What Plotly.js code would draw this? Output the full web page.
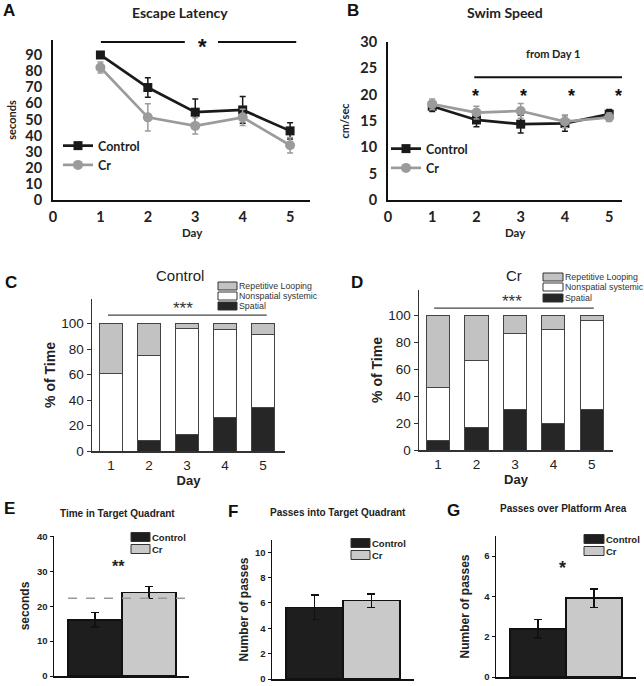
<!DOCTYPE html>
<html><head><meta charset="utf-8">
<script src="https://cdn.plot.ly/plotly-3.0.1.min.js"></script>
<style>html,body{margin:0;padding:0;background:#fff}#chart{width:644px;height:686px}</style>
</head><body><div id="chart"></div>
<script>
// ---------- data ----------
const days = [1, 2, 3, 4, 5];
const groups = ['Control', 'Cr'];

// A: Escape latency (seconds)
const latencyControl = [90, 69.8, 54.5, 55.9, 42.9];
const latencyControlErr = [1, 6, 8.2, 8.3, 5];
const latencyCr = [82.2, 51.3, 46, 51.3, 34];
const latencyCrErr = [3.4, 8.5, 5, 5, 4.8];

// B: Swim speed (cm/sec)
const speedControl = [17.8, 15.2, 14.4, 14.55, 16.3];
const speedControlErr = [1, 1.3, 1.7, 1.5, 0.9];
const speedCr = [18.2, 16.6, 16.9, 14.9, 15.7];
const speedCrErr = [1, 1.2, 1.4, 1.2, 0.8];

// C / D: search strategy (% of time)
const strategyNames = ['Spatial', 'Nonspatial systemic', 'Repetitive Looping'];
const ctrlSpatial = [0, 8.6, 13, 26.7, 33.8];
const ctrlNonspatial = [60.7, 66.5, 83.3, 69.1, 58.1];
const ctrlLooping = [39.3, 24.9, 3.7, 4.2, 8.1];
const crSpatial = [6.7, 16.8, 30.2, 19.8, 30.2];
const crNonspatial = [39.8, 49.8, 56.4, 69.8, 65.8];
const crLooping = [53.5, 33.4, 13.4, 10.4, 4];

// E: time in target quadrant (seconds)
const targetTime = [16.1, 24.0];
const targetTimeErr = [2.1, 1.7];
const chanceLevel = 22.3;
// F: passes into target quadrant
const quadrantPasses = [5.66, 6.18];
const quadrantPassesErr = [0.97, 0.52];
// G: passes over platform area
const platformPasses = [2.39, 3.91];
const platformPassesErr = [0.46, 0.46];

// ---------- styles ----------
const W = 644, H = 686;
const fx = p => p / W;
const fy = p => 1 - p / H;
const CTRL = '#1a1a1a', CR = '#9b9b9b';
const stratColors = ['#262626', '#ffffff', '#c2c2c2'];
const barColors = ['#1e1e1e', '#c9c9c9'];
const XL = 'Lato, "Open Sans", sans-serif';
const AR = '"Liberation Sans", Arial, sans-serif';

const traces = [];
function lineTrace(y, err, name, color, sym, size, ax, leg) {
  return {x: days, y: y, type: 'scatter', mode: 'lines+markers', name: name,
    xaxis: 'x' + ax, yaxis: 'y' + ax, legend: leg,
    line: {color: color, width: 2.7},
    marker: {symbol: sym, size: size, color: color},
    error_y: {type: 'data', array: err, color: color, thickness: 1.5, width: 3}};
}
traces.push(lineTrace(latencyControl, latencyControlErr, 'Control', CTRL, 'square', 9, '', 'legend'));
traces.push(lineTrace(latencyCr, latencyCrErr, 'Cr', CR, 'circle', 10, '', 'legend'));
traces.push(lineTrace(speedControl, speedControlErr, 'Control', CTRL, 'square', 9, '2', 'legend2'));
traces.push(lineTrace(speedCr, speedCrErr, 'Cr', CR, 'circle', 10, '2', 'legend2'));

function stackTraces(series, ax) {
  series.forEach((s, i) => traces.push({x: days, y: s, type: 'bar', name: strategyNames[i],
    xaxis: 'x' + ax, yaxis: 'y' + ax, width: 0.6, showlegend: false,
    marker: {color: stratColors[i], line: {color: '#444', width: 1}}}));
}
stackTraces([ctrlSpatial, ctrlNonspatial, ctrlLooping], '3');
stackTraces([crSpatial, crNonspatial, crLooping], '4');

function groupBars(vals, errs, ax) {
  vals.forEach((v, i) => traces.push({x: [groups[i]], y: [v], type: 'bar', name: groups[i],
    xaxis: 'x' + ax, yaxis: 'y' + ax, width: 1, showlegend: false,
    marker: {color: barColors[i], line: {color: '#111', width: 1.5}},
    error_y: {type: 'data', array: [errs[i]], color: '#111', thickness: 1.5, width: 4}}));
}
groupBars(targetTime, targetTimeErr, '5');
groupBars(quadrantPasses, quadrantPassesErr, '6');
groupBars(platformPasses, platformPassesErr, '7');

// ---------- axes ----------
const xlTick = {family: XL, size: 14.5, weight: 'bold', color: '#222'};
const arTick = {family: AR, size: 13.5, color: '#222'};
const smTick = {family: AR, size: 9.5, weight: 'bold', color: '#222'};
function ax(domain, range, extra) {
  return Object.assign({domain: domain, range: range, showgrid: false, zeroline: false,
    showline: true, fixedrange: true}, extra);
}
const layout = {
  width: W, height: H, margin: {l: 0, r: 0, t: 0, b: 0},
  paper_bgcolor: '#fff', plot_bgcolor: 'rgba(0,0,0,0)', barmode: 'stack',
  showlegend: true,
  xaxis: ax([fx(53), fx(310)], [0, 5.42], {anchor: 'y', tickvals: [0,1,2,3,4,5], ticks: '', linecolor: '#111', linewidth: 2, tickfont: xlTick, ticklabelstandoff: 3}),
  yaxis: ax([fy(200), fy(40)], [0, 99.3], {anchor: 'x', tickvals: [0,10,20,30,40,50,60,70,80,90], ticks: '', linecolor: '#111', linewidth: 2, tickfont: xlTick, ticklabelstandoff: 6,
    title: {text: 'seconds', font: {family: XL, size: 11, weight: 'bold', color: '#222'}, standoff: 6}}),
  xaxis2: ax([fx(388), fx(622)], [0, 5.29], {anchor: 'y2', tickvals: [0,1,2,3,4,5], ticks: '', linecolor: '#111', linewidth: 2, tickfont: xlTick, ticklabelstandoff: 3}),
  yaxis2: ax([fy(200), fy(42)], [0, 30], {anchor: 'x2', tickvals: [0,5,10,15,20,25,30], ticks: '', linecolor: '#111', linewidth: 2, tickfont: xlTick, ticklabelstandoff: 6,
    title: {text: 'cm/sec', font: {family: XL, size: 11, weight: 'bold', color: '#222'}, standoff: 8}}),
  xaxis3: ax([fx(92), fx(285)], [0.5, 5.58], {anchor: 'y3', tickvals: days, ticks: '', linecolor: '#333', linewidth: 1.5, tickfont: arTick, ticklabelstandoff: 1,
    title: {text: 'Day', font: {family: AR, size: 13, weight: 'bold', color: '#222'}, standoff: 2}}),
  yaxis3: ax([fy(451), fy(299)], [0, 119.4], {anchor: 'x3', tickvals: [0,20,40,60,80,100], ticks: 'outside', ticklen: 4, tickcolor: '#333', linecolor: '#333', linewidth: 1.5, tickfont: arTick,
    title: {text: '% of Time', font: {family: AR, size: 14, weight: 'bold', color: '#222'}, standoff: 2}}),
  xaxis4: ax([fx(419), fx(613)], [0.506, 5.55], {anchor: 'y4', tickvals: days, ticks: '', linecolor: '#333', linewidth: 1.5, tickfont: arTick, ticklabelstandoff: 1,
    title: {text: 'Day', font: {family: AR, size: 13, weight: 'bold', color: '#222'}, standoff: 2}}),
  yaxis4: ax([fy(450), fy(290)], [0, 118.8], {anchor: 'x4', tickvals: [0,20,40,60,80,100], ticks: 'outside', ticklen: 4, tickcolor: '#333', linecolor: '#333', linewidth: 1.5, tickfont: arTick,
    title: {text: '% of Time', font: {family: AR, size: 14, weight: 'bold', color: '#222'}, standoff: 2}}),
  xaxis5: ax([fx(54), fx(189)], [-0.76, 1.74], {anchor: 'y5', type: 'category', showticklabels: false, ticks: '', linecolor: '#111', linewidth: 1.5}),
  yaxis5: ax([fy(676), fy(536)], [0, 40.2], {anchor: 'x5', tickvals: [0,10,20,30,40], ticks: 'outside', ticklen: 3, tickcolor: '#111', linecolor: '#111', linewidth: 1.5, tickfont: smTick,
    title: {text: 'seconds', font: {family: AR, size: 12, weight: 'bold', color: '#222'}, standoff: 5}}),
  xaxis6: ax([fx(272), fx(414)], [-0.75, 1.75], {anchor: 'y6', type: 'category', showticklabels: false, ticks: '', linecolor: '#111', linewidth: 1.5}),
  yaxis6: ax([fy(679), fy(540)], [0, 10.97], {anchor: 'x6', tickvals: [0,2,4,6,8,10], ticks: 'outside', ticklen: 3, tickcolor: '#111', linecolor: '#111', linewidth: 1.5, tickfont: smTick,
    title: {text: 'Number of passes', font: {family: AR, size: 12, weight: 'bold', color: '#222'}, standoff: 4}}),
  xaxis7: ax([fx(496), fx(636)], [-0.75, 1.75], {anchor: 'y7', type: 'category', showticklabels: false, ticks: '', linecolor: '#111', linewidth: 1.5}),
  yaxis7: ax([fy(677), fy(536)], [0, 7.0], {anchor: 'x7', tickvals: [0,2,4,6], ticks: 'outside', ticklen: 3, tickcolor: '#111', linecolor: '#111', linewidth: 1.5, tickfont: smTick,
    title: {text: 'Number of passes', font: {family: AR, size: 12, weight: 'bold', color: '#222'}, standoff: 12}}),
  legend: {x: fx(58), y: fy(131), xanchor: 'left', yanchor: 'top', bgcolor: 'rgba(0,0,0,0)', itemwidth: 30, tracegroupgap: 0, traceorder: 'normal',
    font: {family: XL, size: 12.5, weight: 'bold', color: '#222'}},
  legend2: {x: fx(386), y: fy(134), xanchor: 'left', yanchor: 'top', bgcolor: 'rgba(0,0,0,0)', itemwidth: 30, tracegroupgap: 0, traceorder: 'normal',
    font: {family: XL, size: 12.5, weight: 'bold', color: '#222'}},
  shapes: [], annotations: []
};

const S = layout.shapes, A = layout.annotations;
function txt(x, y, text, font, opts) {
  A.push(Object.assign({x: x, y: y, xref: 'paper', yref: 'paper', text: text, showarrow: false, font: font, xanchor: 'center', yanchor: 'middle'}, opts || {}));
}
function dtxt(x, y, xr, yr, text, font) {
  A.push({x: x, y: y, xref: xr, yref: yr, text: text, showarrow: false, font: font, xanchor: 'center', yanchor: 'middle'});
}
function dline(x0, x1, y, xr, yr, color, width, dash) {
  S.push({type: 'line', xref: xr, yref: yr, x0: x0, x1: x1, y0: y, y1: y, line: {color: color, width: width, dash: dash || 'solid'}});
}
const letterFont = {family: AR, size: 17, weight: 'bold', color: '#111'};
// panel letters
[['A', 9, 11], ['B', 353, 10], ['C', 11, 282], ['D', 357, 282], ['E', 9, 509], ['F', 233, 511], ['G', 453, 510]]
  .forEach(l => txt(fx(l[1]), fy(l[2]), l[0], letterFont));
// titles
txt(fx(180), fy(12), 'Escape Latency', {family: XL, size: 14, weight: 'bold', color: '#222'});
txt(fx(505), fy(12), 'Swim Speed', {family: XL, size: 14, weight: 'bold', color: '#222'});
txt(fx(180), fy(275), 'Control', {family: AR, size: 15, color: '#222'});
txt(fx(514), fy(275), 'Cr', {family: AR, size: 15, color: '#222'});
txt(fx(117), fy(513), 'Time in Target Quadrant', {family: AR, size: 10, weight: 'bold', color: '#222'});
txt(fx(338), fy(512), 'Passes into Target Quadrant', {family: AR, size: 10, weight: 'bold', color: '#222'});
txt(fx(563), fy(508), 'Passes over Platform Area', {family: AR, size: 10, weight: 'bold', color: '#222'});
txt(fx(192), fy(233), 'Day', {family: XL, size: 11.5, weight: 'bold', color: '#222'});
txt(fx(515), fy(233), 'Day', {family: XL, size: 11.5, weight: 'bold', color: '#222'});

// significance marks
dline(1.01, 2.78, 98, 'x', 'y', '#111', 2);
dline(3.48, 5.13, 98, 'x', 'y', '#111', 2);
dtxt(3.16, 95.2, 'x', 'y', '*', {family: AR, size: 22, weight: 'bold', color: '#111'});
dline(1.95, 5.29, 23.3, 'x2', 'y2', '#111', 2);
dtxt(3.74, 27.9, 'x2', 'y2', 'from Day 1', {family: XL, size: 11, weight: 'bold', color: '#222'});
[1.97, 3.07, 4.14, 5.22].forEach(x => dtxt(x, 19.8, 'x2', 'y2', '*', {family: AR, size: 18, weight: 'bold', color: '#111'}));
dline(0.92, 5.1, 106.8, 'x3', 'y3', '#444', 1.3);
dtxt(2.89, 112.3, 'x3', 'y3', '***', {family: AR, size: 17, color: '#333'});
dline(0.9, 5.05, 105.4, 'x4', 'y4', '#444', 1.3);
dtxt(2.92, 110.6, 'x4', 'y4', '***', {family: AR, size: 17, color: '#333'});
dline(-0.5, 1.72, chanceLevel, 'x5', 'y5', '#999', 1.5, 'dash');
dtxt(0.44, 31.5, 'x5', 'y5', '**', {family: AR, size: 16, weight: 'bold', color: '#222'});
dtxt(0.43, 5.4, 'x7', 'y7', '*', {family: AR, size: 18, weight: 'bold', color: '#222'});

// box legends for bar panels
function boxLegend(x0, x1, rows, h, labels, colors, font) {
  labels.forEach((lab, i) => {
    const yc = rows[i];
    S.push({type: 'rect', xref: 'paper', yref: 'paper', x0: fx(x0), x1: fx(x1), y0: fy(yc + h / 2), y1: fy(yc - h / 2),
      fillcolor: colors[i], line: {color: '#333', width: 1}});
    txt(fx(x1 + 1), fy(yc), lab, font, {xanchor: 'left', borderpad: 0});
  });
}
const stratFont = {family: AR, size: 8.8, color: '#333'};
const revNames = strategyNames.slice().reverse(), revColors = stratColors.slice().reverse();
boxLegend(218, 237, [286, 296, 306], 8, revNames, revColors, stratFont);
boxLegend(543, 563, [277, 287, 298], 8, revNames, revColors, stratFont);
const grpFont = {family: AR, size: 9.5, weight: 'bold', color: '#222'};
boxLegend(131, 150, [537, 549], 9, groups, barColors, grpFont);
boxLegend(351, 370, [543, 555], 9, groups, barColors, grpFont);
boxLegend(584, 604, [539, 551], 9, groups, barColors, grpFont);

Plotly.newPlot('chart', traces, layout, {staticPlot: true, displayModeBar: false});
</script></body></html>
